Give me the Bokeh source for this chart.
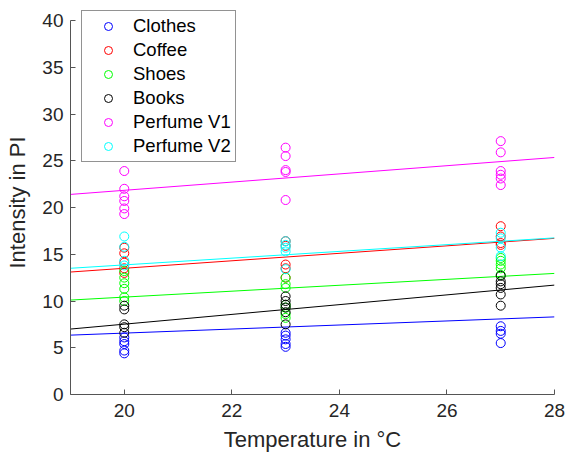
from bokeh.plotting import figure
from bokeh.models import Legend, LegendItem, Range1d, FixedTicker
from bokeh.embed import file_html
from bokeh.resources import INLINE

# ---- data ----
categories = ["Clothes", "Coffee", "Shoes", "Books", "Perfume V1", "Perfume V2"]
colors = ["#0000ff", "#ff0000", "#00ff00", "#000000", "#ff00ff", "#00ffff"]

clothes_x = [20]*5 + [23]*5 + [27]*4
clothes_y = [6.1, 5.7, 5.4, 4.7, 4.4, 6.6, 6.3, 5.9, 5.4, 5.1, 7.3, 6.8, 6.5, 5.5]

coffee_x = [20]*5 + [23]*5 + [27]*4
coffee_y = [15.7, 15.1, 14.1, 13.5, 13.0, 16.4, 15.9, 13.9, 13.5, 12.5, 18.0, 16.9, 16.2, 16.0]

shoes_x = [20]*6 + [23]*7 + [27]*5
shoes_y = [13.2, 12.5, 11.9, 11.3, 10.4, 10.0, 12.5, 11.8, 11.4, 9.6, 9.3, 8.6, 8.2, 14.6, 14.3, 13.9, 13.5, 12.8]

books_x = [20]*5 + [23]*6 + [27]*6
books_y = [9.5, 9.1, 7.5, 7.2, 6.6, 10.5, 10.0, 9.6, 9.3, 8.8, 7.5, 12.7, 12.1, 11.8, 11.4, 10.7, 9.5]

perf1_x = [20]*6 + [23]*5 + [27]*6
perf1_y = [23.9, 22.0, 21.2, 20.7, 19.9, 19.3, 26.4, 25.5, 24.0, 23.8, 20.8, 27.1, 25.9, 23.9, 23.5, 23.1, 22.4]

perf2_x = [20]*4 + [23]*5 + [27]*4
perf2_y = [16.9, 15.8, 14.3, 13.8, 16.4, 16.0, 15.7, 15.3, 13.4, 17.3, 16.7, 15.7, 14.8]

xs = [clothes_x, coffee_x, shoes_x, books_x, perf1_x, perf2_x]
ys = [clothes_y, coffee_y, shoes_y, books_y, perf1_y, perf2_y]

# trend lines: value at left (19 °C) and right (28 °C) end
trend_x = [19, 28]
trend_start = [6.35, 13.1, 10.1, 7.0, 21.4, 13.5]
trend_end = [8.3, 16.7, 12.95, 11.7, 25.35, 16.75]

x_ticks = [20, 22, 24, 26, 28]
y_ticks = [0, 5, 10, 15, 20, 25, 30, 35, 40]

FONT = "Liberation Sans"
TXT = "#262626"
AX = "#555555"

# frame extends slightly above 40 so the legend box (which pokes above the top tick) is not clipped
p = figure(width=566, height=452, frame_width=484, frame_height=384,
           output_backend="svg", toolbar_location=None,
           x_range=Range1d(19, 28), y_range=Range1d(0, 41.07),
           min_border_left=70, min_border_right=12, min_border_top=10, min_border_bottom=58)
p.outline_line_color = None
p.xgrid.visible = False
p.ygrid.visible = False

items = []
for name, c, x, y, y0, y1 in zip(categories, colors, xs, ys, trend_start, trend_end):
    r = p.scatter(x, y, marker="circle", size=9, fill_color=None, line_color=c, line_width=1)
    p.line(trend_x, [y0, y1], line_color=c, line_width=1)
    items.append(LegendItem(label=name, renderers=[r]))

for ax in (p.xaxis[0], p.yaxis[0]):
    ax.axis_line_color = AX
    ax.major_tick_line_color = AX
    ax.major_tick_in = 5
    ax.major_tick_out = 0
    ax.minor_tick_line_color = None
    ax.major_label_text_font = FONT
    ax.major_label_text_font_size = "19px"
    ax.major_label_text_color = TXT
    ax.axis_label_text_font = FONT
    ax.axis_label_text_font_size = "22px"
    ax.axis_label_text_color = TXT
    ax.axis_label_text_font_style = "normal"

p.yaxis.bounds = (0, 40)
p.xaxis.ticker = FixedTicker(ticks=x_ticks)
p.yaxis.ticker = FixedTicker(ticks=y_ticks)
p.xaxis.axis_label = "Temperature in °C"
p.yaxis.axis_label = "Intensity in PI"
p.xaxis.major_label_standoff = 9
p.yaxis.major_label_standoff = 7
p.xaxis.axis_label_standoff = 7
p.yaxis.axis_label_standoff = 9

legend = Legend(items=items, location=(11, 232), orientation="vertical")
legend.label_text_font = FONT
legend.label_text_font_size = "18.5px"
legend.label_text_color = "#000000"
legend.border_line_color = "#262626"
legend.border_line_width = 1
legend.background_fill_color = "white"
legend.background_fill_alpha = 1
legend.padding = 4
legend.spacing = 2
legend.label_height = 20
legend.glyph_height = 20
legend.glyph_width = 44
legend.label_standoff = 3
legend.margin = 0
p.add_layout(legend, "center")

open("out.html", "w").write(file_html(p, INLINE))
